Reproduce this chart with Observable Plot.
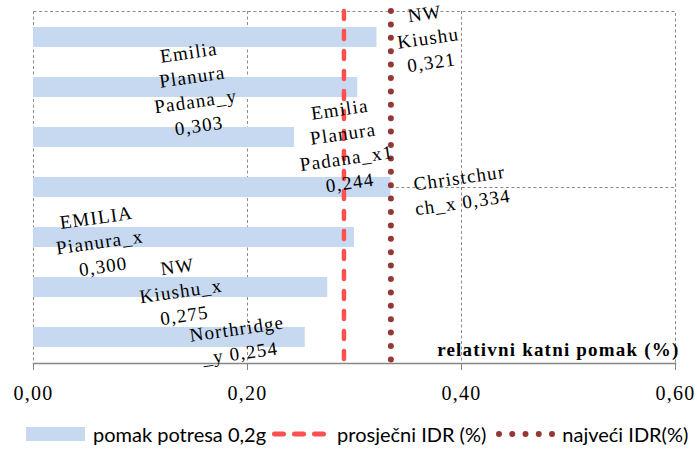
<!DOCTYPE html>
<html><head><meta charset="utf-8">
<script src="https://cdn.jsdelivr.net/npm/d3@7"></script>
<script src="https://cdn.jsdelivr.net/npm/@observablehq/plot@0.6"></script>
<style>
body{margin:0;background:#fff;}
#chart svg{overflow:visible;}
#legend{display:flex;align-items:center;height:37px;padding-left:26px;font-family:Lato,sans-serif;font-size:20px;color:#000;white-space:nowrap;}
#legend svg{display:block;}
</style></head><body>
<div id="chart"></div>
<div id="legend"></div>
<script>
// ---- data ----
const categories = ["NW Kiushu", "Emilia Planura Padana_y", "Emilia Planura Padana_x1", "Christchurch_x", "EMILIA Pianura_x", "NW Kiushu_x", "Northridge_y"];
const values = [0.321, 0.303, 0.244, 0.334, 0.300, 0.275, 0.254];
const labelTexts = ["NW\nKiushu\n0,321", "Emilia\nPlanura\nPadana_y\n0,303", "Emilia\nPlanura\nPadana_x1\n0,244", "Christchur\nch_x 0,334", "EMILIA\nPianura_x\n0,300", "NW\nKiushu_x\n0,275", "Northridge\n_y 0,254"];
const xTicks = [0, 0.2, 0.4, 0.6];
const xTickLabels = ["0,00", "0,20", "0,40", "0,60"];
const axisTitle = "relativni katni pomak (%)";
const legendLabels = ["pomak potresa 0,2g", "prosječni IDR (%)", "najveći IDR(%)"];

// ---- derived ----
const data = categories.map((c, i) => ({category: c, value: values[i], label: labelTexts[i]}));
const avg = d3.mean(values);
const mx = d3.max(values);
const maxCat = categories[values.indexOf(mx)];

// manual label placement offsets (px) relative to bar end
const labelOffsets = [[51, -1], [-164, 0], [50, 7], [70, 1], [-255, 3], [-147, 2], [-67, 2]];

const barColor = "#c6d9f0";
const avgColor = "#ff5050";
const maxColor = "#953735";
const gridColor = "#8c8c8c";

const plot = Plot.plot({
  width: 697, height: 415,
  marginLeft: 33, marginRight: 22, marginTop: 11, marginBottom: 52,
  style: {background: "#fff", fontFamily: "'Liberation Serif', 'Times New Roman', serif", fontSize: "20px", color: "#000", overflow: "visible"},
  x: {domain: [0, 0.6], axis: null},
  y: {domain: categories, paddingInner: 0.6, paddingOuter: 0.3, axis: null},
  marks: [
    Plot.ruleX(xTicks.slice(1, -1), {stroke: gridColor, strokeDasharray: "3,2.5"}),
    Plot.frame({stroke: gridColor, strokeDasharray: "3,2.5"}),
    Plot.ruleY([{c: maxCat, a: mx, b: 0.6}], {y: "c", x1: "a", x2: "b", stroke: gridColor, strokeDasharray: "3,2.5"}),
    Plot.barX(data, {x: "value", y: "category", fill: barColor}),
    Plot.ruleX([avg], {stroke: avgColor, strokeWidth: 4.5, strokeDasharray: "8,12", strokeLinecap: "round"}),
    Plot.ruleX([mx], {stroke: maxColor, strokeWidth: 6, strokeDasharray: "0,13.4", strokeLinecap: "round"}),
    Plot.frame({anchor: "bottom", stroke: "#868686", strokeWidth: 1.5}),
    Plot.axisX({ticks: xTicks, tickFormat: d => xTickLabels[xTicks.indexOf(d)], tickSize: 7, tickPadding: 15, stroke: "#868686", fill: "#000", fontSize: 20}),
    Plot.text([axisTitle], {frameAnchor: "bottom-right", text: d => d, textAnchor: "end", lineAnchor: "bottom", dx: 4, dy: -8, fontSize: 19, fontWeight: "bold", fill: "#000"}),
    ...data.map((d, i) => Plot.text([d], {
      x: "value", y: "category", text: "label",
      dx: labelOffsets[i][0], dy: labelOffsets[i][1],
      rotate: -8, fontSize: 19, lineHeight: 1.3, fill: "#000", textAnchor: "middle"
    }))
  ]
});
plot.querySelectorAll("text").forEach(t => t.style.letterSpacing = "1.2px");
document.getElementById("chart").appendChild(plot);

// ---- legend ----
const legend = d3.select("#legend");
const sw1 = legend.append("svg").attr("width", 59).attr("height", 14);
sw1.append("rect").attr("width", 59).attr("height", 14).attr("fill", barColor);
legend.append("span").style("margin-left", "8px").text(legendLabels[0]);
const sw2 = legend.append("svg").attr("width", 54).attr("height", 14).style("margin-left", "6px");
sw2.append("line").attr("x1", 2.5).attr("x2", 51.5).attr("y1", 7).attr("y2", 7)
  .attr("stroke", avgColor).attr("stroke-width", 5).attr("stroke-dasharray", "9,11").attr("stroke-linecap", "round");
legend.append("span").style("margin-left", "11px").text(legendLabels[1]);
const sw3 = legend.append("svg").attr("width", 60).attr("height", 14).style("margin-left", "10px");
sw3.append("line").attr("x1", 3).attr("x2", 57).attr("y1", 7).attr("y2", 7)
  .attr("stroke", maxColor).attr("stroke-width", 6).attr("stroke-dasharray", "0,13.25").attr("stroke-linecap", "round");
legend.append("span").style("margin-left", "6px").text(legendLabels[2]);
</script>
</body></html>
